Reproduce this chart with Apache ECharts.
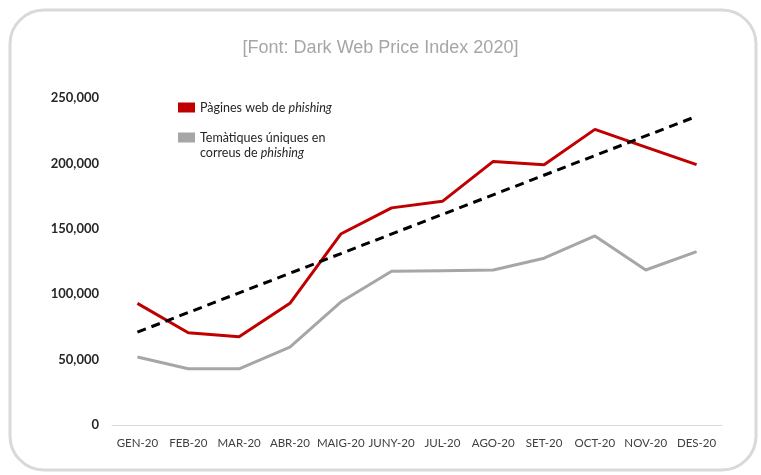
<!DOCTYPE html>
<html>
<head>
<meta charset="utf-8">
<script src="https://cdn.jsdelivr.net/npm/echarts@6/dist/echarts.min.js"></script>
<style>html,body{margin:0;padding:0;background:#fff}#c{width:761px;height:475px}</style>
</head>
<body>
<div id="c"></div>
<script>
const categories = ['GEN-20','FEB-20','MAR-20','ABR-20','MAIG-20','JUNY-20','JUL-20','AGO-20','SET-20','OCT-20','NOV-20','DES-20'];
const phishingPages = [93000, 70500, 67500, 93000, 146000, 166000, 171000, 201500, 199000, 226000, 212500, 199000];
const uniqueThemes = [52000, 43000, 43000, 59500, 94000, 117500, 118000, 118500, 127500, 144500, 118500, 132500];
const trendEnds = [71000, 236000];
const yTicks = [0, 50000, 100000, 150000, 200000, 250000];
const titleText = '[Font: Dark Web Price Index 2020]';
const seriesNames = ['Pàgines web de phishing', 'Temàtiques úniques en correus de phishing'];

const trendData = categories.map((c, i) => i === 0 ? trendEnds[0] : (i === categories.length - 1 ? trendEnds[1] : null));

const chart = echarts.init(document.getElementById('c'), null, {renderer: 'canvas'});
const font = 'Lato, "Open Sans", sans-serif';
const legendText = {
  fontFamily: font, fontSize: 12.5, color: '#262626',
  rich: {
    e: {fontFamily: font, fontSize: 12.5, lineHeight: 15},
    n: {fontFamily: font, fontSize: 12.5, color: '#262626', lineHeight: 15},
    i: {fontFamily: font, fontSize: 12.5, color: '#262626', fontStyle: 'italic', lineHeight: 15}
  }
};
chart.setOption({
  backgroundColor: '#fff',
  animation: false,
  title: {
    text: titleText, left: 'center', top: 34,
    textStyle: {fontFamily: '"Liberation Sans", Arial, sans-serif', fontSize: 18, fontWeight: 'normal', color: '#a6a6a6'}
  },
  graphic: [{
    type: 'rect', shape: {x: 10, y: 10, width: 746, height: 460, r: 34},
    style: {fill: 'none', stroke: '#d9d9d9', lineWidth: 3}, z: 0
  }],
  legend: [{
    data: [seriesNames[0]], orient: 'vertical', left: 173, top: 96,
    itemWidth: 17, itemHeight: 10, icon: 'rect', itemGap: 0,
    formatter: () => '{n|Pàgines web de }{i|phishing}',
    textStyle: legendText
  }, {
    data: [seriesNames[1]], orient: 'vertical', left: 173, top: 111,
    itemWidth: 17, itemHeight: 10, icon: 'rect', itemGap: 0,
    formatter: () => '{e| }\n{n|Temàtiques úniques en}\n{n|correus de }{i|phishing}',
    textStyle: legendText
  }],
  grid: {left: 112, right: 39, top: 98, bottom: 50},
  xAxis: {
    type: 'category', data: categories, boundaryGap: true,
    axisLine: {lineStyle: {color: '#d9d9d9', width: 1}},
    axisTick: {show: false},
    axisLabel: {color: '#404040', fontFamily: font, fontSize: 11.5, margin: 12, interval: 0}
  },
  yAxis: {
    type: 'value', min: 0, max: 250000, interval: 50000,
    axisLine: {show: false}, axisTick: {show: false}, splitLine: {show: false},
    axisLabel: {
      color: '#262626', fontFamily: font, fontSize: 13, fontWeight: 'bold', margin: 13,
      formatter: v => yTicks.includes(v) ? v.toLocaleString('en-US') : ''
    }
  },
  series: [
    {name: seriesNames[0], type: 'line', data: phishingPages, symbol: 'none',
     itemStyle: {color: '#c00000'}, lineStyle: {color: '#c00000', width: 3}, z: 3},
    {name: seriesNames[1], type: 'line', data: uniqueThemes, symbol: 'none',
     itemStyle: {color: '#a6a6a6'}, lineStyle: {color: '#a6a6a6', width: 3}, z: 2},
    {name: 'Tendència', type: 'line', data: trendData, connectNulls: true, symbol: 'none',
     lineStyle: {color: '#000', width: 3, type: [9, 6]}, z: 4}
  ]
});
</script>
</body>
</html>
